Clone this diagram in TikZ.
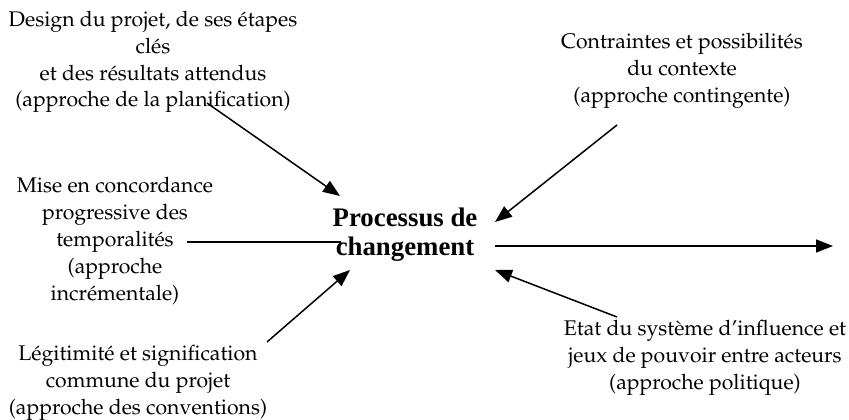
\documentclass[tikz,border=0pt]{standalone}
\usepackage[T1]{fontenc}
\usepackage{fontspec}
\newfontfamily\centerfont{Liberation Serif}
\usetikzlibrary{arrows.meta}
\newcommand{\palfont}{\fontencoding{T1}\fontfamily{ppl}\fontsize{21.2}{26.8}\selectfont}
\tikzset{
  lbl/.style={align=center, inner sep=0pt, font=\palfont},
  ctr/.style={align=center, inner sep=0pt, font=\centerfont\bfseries\fontsize{26.8}{29}\selectfont},
  arr/.style={line width=1.5pt, -{Triangle[length=17pt,width=13pt]}},
  ln/.style={line width=1.5pt}
}
\begin{document}
\begin{tikzpicture}[x=1pt,y=-1pt]
\useasboundingbox (0,0) rectangle (849,420);
\node[lbl] (A) at (153,62) {Design du projet, de ses étapes\\clés\\et des résultats attendus\\(approche de la planification)};
\node[lbl] (B) at (115,241) {Mise en concordance\\progressive des\\temporalités\\(approche\\incrémentale)};
\node[lbl] (C) at (138,383) {Légitimité et signification\\commune du projet\\(approche des conventions)};
\node[lbl] (D) at (682,71) {Contraintes et possibilités\\du contexte\\(approche contingente)};
\node[lbl] (E) at (705,358) {Etat du système d'influence et\\jeux de pouvoir entre acteurs\\(approche politique)};
\node[ctr] (P) at (405,235) {Processus de\\changement};
% connector end points
\coordinate (a1) at (207,103);
\coordinate (a2) at (340,196);
\coordinate (b1) at (187,242);
\coordinate (b2) at (341,242);
\coordinate (c1) at (267,342);
\coordinate (c2) at (350,270);
\coordinate (d1) at (617,125);
\coordinate (d2) at (495,222);
\coordinate (e1) at (617,317);
\coordinate (e2) at (495,270);
\coordinate (o1) at (495,246);
\coordinate (o2) at (833,246);
\draw[arr] (a1) -- (a2);
\draw[ln] (b1) -- (b2);
\draw[arr] (c1) -- (c2);
\draw[arr] (d1) -- (d2);
\draw[arr] (e1) -- (e2);
\draw[arr] (o1) -- (o2);
\end{tikzpicture}
\end{document}
